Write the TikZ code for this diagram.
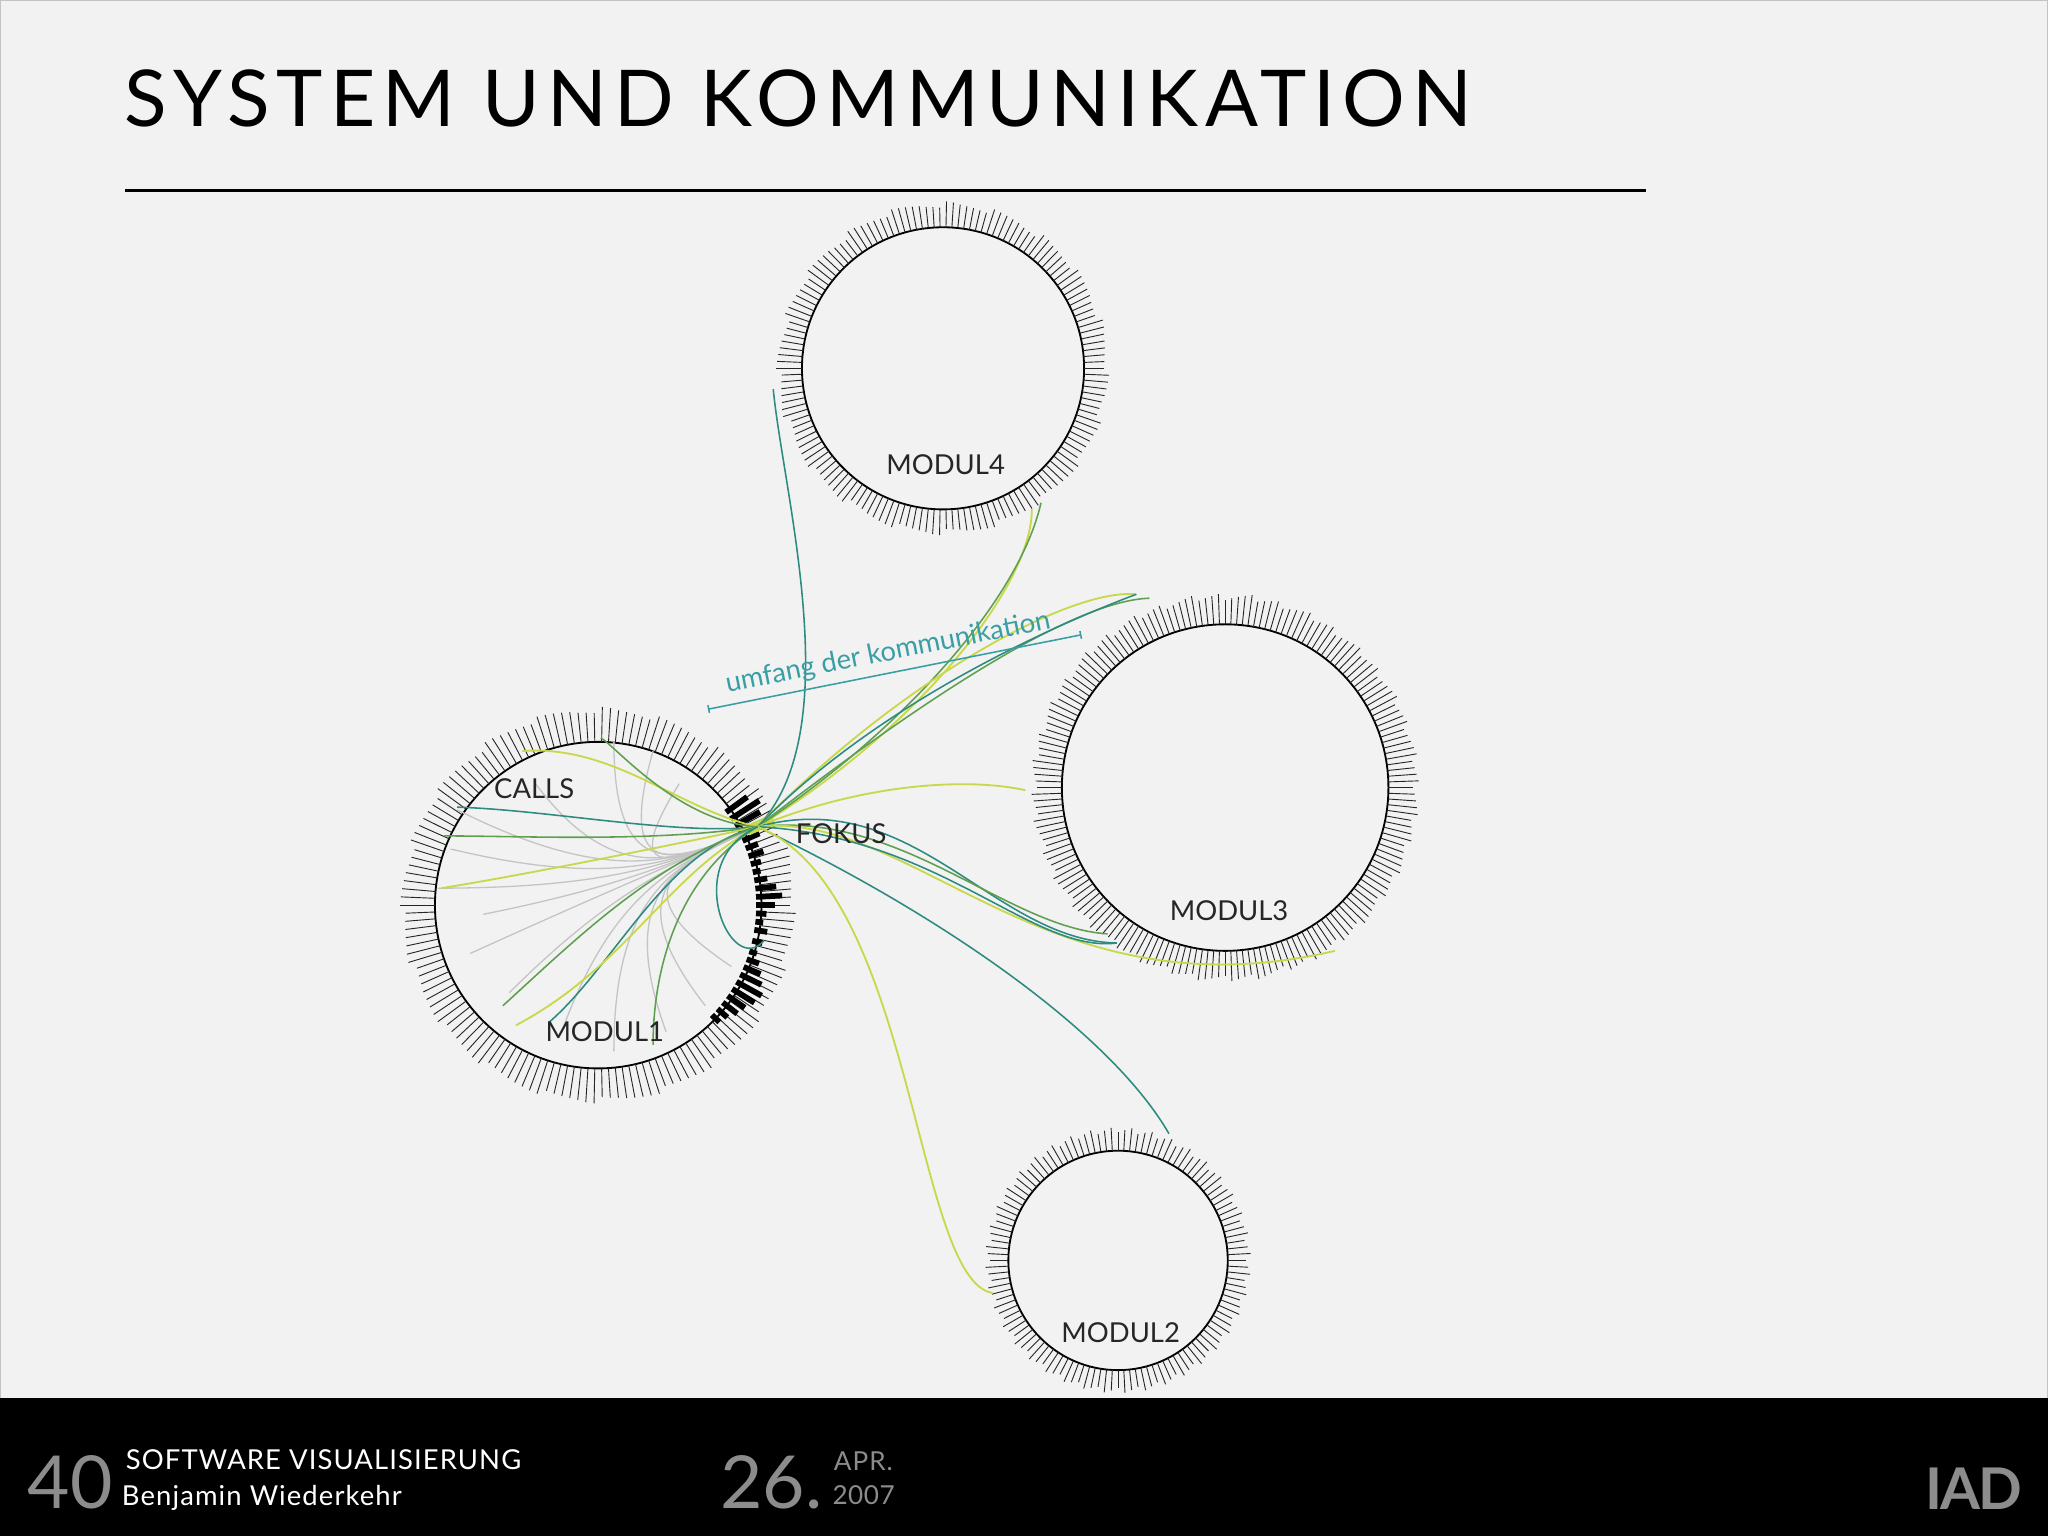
\documentclass[tikz,border=0pt]{standalone}
\usepackage{fontspec}
\usetikzlibrary{arrows.meta}
\setmainfont{Lato}
\definecolor{bg}{HTML}{F2F2F2}
\definecolor{teal}{HTML}{2E8B82}
\definecolor{grn}{HTML}{5FA050}
\definecolor{yel}{HTML}{C8D84A}
\definecolor{lgray}{HTML}{C4C4C4}
\definecolor{lteal}{HTML}{3A9FA5}
\definecolor{fgray}{HTML}{8C8C8C}
\tikzset{
  tk/.style={line width=0.35pt,black!85},
  ring/.style={line width=0.7pt,black},
  cT/.style={teal,line width=0.6pt},
  cG/.style={grn,line width=0.6pt},
  cY/.style={yel,line width=0.7pt},
  cL/.style={lgray,line width=0.5pt},
  lab/.style={font=\fontsize{10.5}{12}\selectfont,text=black!85},
}
\newcommand{\modring}[4]{% center, inner r, base len, step
  \draw[ring] (#1) circle[radius=#2];
  \foreach \a in {0,#4,...,359.9}{
    \pgfmathsetmacro{\L}{#3+mod(int(\a*37),9)*0.6}
    \draw[tk] (#1) ++(\a:#2) -- ++(\a:\L);
  }
}
\begin{document}
\begin{tikzpicture}[x=0.5pt,y=-0.5pt]
\fill[bg] (0,0) rectangle (1568,1176);
\draw[lgray,line width=0.5pt] (0.5,0.5) rectangle (1567.5,1175.5);
\useasboundingbox (0,0) rectangle (1568,1176);
% title
\node[anchor=base west,inner sep=0] (title) at (95,97) {\fontsize{30}{32}\selectfont\addfontfeature{LetterSpace=9}SYSTEM UND KOMMUNIKATION};
\draw[line width=1pt] (96,146) -- (1260,146);
% centers
\coordinate (m1) at (458,693);
\coordinate (m4) at (722,282);
\coordinate (m3) at (938,603);
\coordinate (m2) at (856,965);
\modring{m1}{125}{22}{2.4}
\modring{m4}{108}{15}{2.4}
\modring{m3}{125}{19}{2}
\modring{m2}{84}{14}{3}
% black bars of module1
\foreach \a/\l in {-36/20,-33/26,-30/22,-27/16,-24/14,-21/10,-18/12,-15/8,-12/6,-9/10,-6/16,-3/20,0/14,3/8,6/6,9/10,13/8,17/6,20/10,23/14,26/18,29/22,32/20,35/16,38/14,41/10,44/8}
  \draw[black,line width=2.2pt] (m1) ++(\a:121) -- ++(\a:\l);
% focus
\coordinate (F) at (580,633);
\draw[yel,line width=4pt] (572,636) -- (592,627);
% connectors
\coordinate (a4) at (592,298); \coordinate (b4) at (790,390); \coordinate (c4) at (797,385);
\coordinate (a3) at (870,455); \coordinate (b3) at (880,458); \coordinate (c3) at (785,605);
\coordinate (d3) at (855,722); \coordinate (e3) at (1022,728); \coordinate (f3) at (848,715);
\coordinate (a2) at (895,868); \coordinate (b2) at (760,990);
\draw[cT] (F) .. controls (650,560) and (600,380) .. (a4);
\draw[cY] (F) .. controls (700,560) and (790,450) .. (b4);
\draw[cG] (F) .. controls (690,560) and (780,460) .. (c4);
\draw[cY] (F) .. controls (690,520) and (820,450) .. (a3);
\draw[cG] (F) .. controls (700,540) and (820,460) .. (b3);
\draw[cT] (F) .. controls (680,530) and (830,470) .. (a3);
\draw[cY] (F) .. controls (660,600) and (740,595) .. (c3);
\draw[cT] (F) .. controls (700,600) and (760,720) .. (d3);
\draw[cG] (F) .. controls (690,620) and (770,710) .. (f3);
\draw[cY] (F) .. controls (700,620) and (800,780) .. (e3);
\draw[cT] (F) .. controls (720,640) and (790,730) .. (d3);
\draw[cT] (F) .. controls (720,700) and (850,790) .. (a2);
\draw[cY] (F) .. controls (700,680) and (700,980) .. (b2);
% inside module1
\foreach \p in {(350,620),(335,680),(370,700),(390,760),(430,790),(470,805),(510,790),(540,770),(520,600),(500,575),(470,568),(345,650),(360,730),(410,600),(560,740)}
  \draw[cL] (F) .. controls (520,660) and (470,680) .. \p;
\draw[cT] (F) .. controls (520,640) and (420,620) .. (350,618);
\draw[cG] (F) .. controls (500,645) and (400,640) .. (340,640);
\draw[cY] (F) .. controls (500,650) and (400,670) .. (338,680);
\draw[cY] (F) .. controls (520,620) and (470,570) .. (400,575);
\draw[cG] (F) .. controls (520,630) and (470,570) .. (460,565);
\draw[cT] (F) .. controls (510,650) and (470,740) .. (420,783);
\draw[cG] (F) .. controls (500,660) and (440,720) .. (385,770);
\draw[cY] (F) .. controls (510,670) and (480,740) .. (395,785);
\draw[cG] (F) .. controls (520,670) and (500,740) .. (500,800);
\draw[cT] (F) .. controls (520,660) and (560,750) .. (585,720);
% labels
\node[lab] (l4) at (724,356) {MODUL4};
\node[lab] (l3) at (941,697) {MODUL3};
\node[lab] (l2) at (858,1020) {MODUL2};
\node[lab] (l1) at (463,790) {MODUL1};
\node[lab] (lc) at (409,604) {CALLS};
\node[lab] (lf) at (644,638) {FOKUS};
% umfang
\coordinate (u1) at (542,543); \coordinate (u2) at (828,486);
\draw[lteal,line width=0.6pt,{Bar[width=3pt]}-{Bar[width=3pt]}] (u1) -- (u2);
\node[text=lteal,rotate=11.3,font=\fontsize{10.5}{12}\selectfont] (ut) at (680,500) {umfang der kommunikation};
% footer
\fill[black] (0,1070) rectangle (1568,1176);
\node[anchor=base west,inner sep=0,text=fgray,font=\fontsize{28}{28}\selectfont] (n40) at (21,1155) {40};
\node[anchor=base west,inner sep=0,text=white,font=\fontsize{10.5}{12}\selectfont\addfontfeature{LetterSpace=4}] (sv) at (96,1125) {SOFTWARE VISUALISIERUNG};
\node[anchor=base west,inner sep=0,text=white,font=\fontsize{10.5}{12}\selectfont\addfontfeature{LetterSpace=4}] (bw) at (93,1153) {Benjamin Wiederkehr};
\node[anchor=base west,inner sep=0,text=fgray,font=\fontsize{28}{28}\selectfont] (d26) at (551,1155) {26.};
\node[anchor=base west,inner sep=0,text=fgray,font=\fontsize{10}{12}\selectfont\addfontfeature{LetterSpace=4}] (apr) at (638,1126) {APR.};
\node[anchor=base west,inner sep=0,text=fgray,font=\fontsize{10}{12}\selectfont\addfontfeature{LetterSpace=2}] (yr) at (637,1152) {2007};
\node[anchor=base west,inner sep=0,text=fgray,font=\fontsize{22}{22}\selectfont\bfseries] (iad) at (1474,1156) {\addfontfeature{LetterSpace=-4}IAD};
\end{tikzpicture}
\end{document}
